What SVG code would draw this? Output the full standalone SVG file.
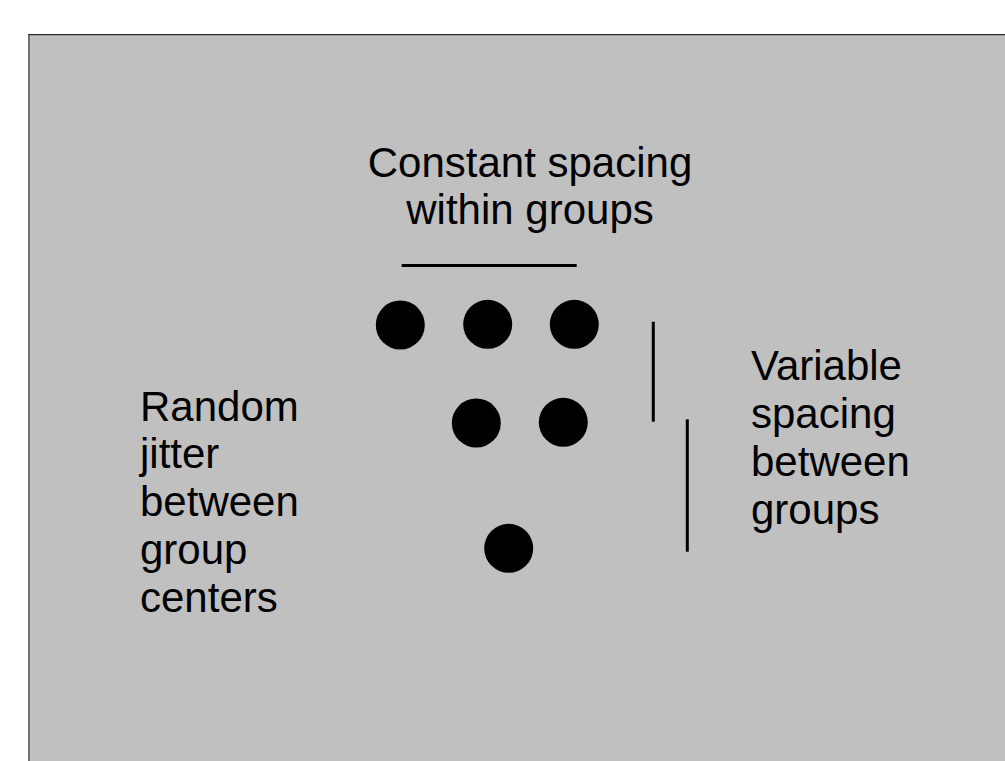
<svg xmlns="http://www.w3.org/2000/svg" width="1005" height="761" viewBox="0 0 1005 761">
  <style>
    .label { font-family: "Liberation Sans", Arial, sans-serif; font-size: 42px; fill: #000000; }
    .dot { fill: #000000; }
    .bar { stroke: #000000; stroke-width: 3; fill: none; }
  </style>
  <rect x="0" y="0" width="1005" height="761" fill="#ffffff"/>
  <!-- slide panel -->
  <rect x="29" y="35" width="976" height="726" fill="#c0c0c0"/>
  <line x1="28" y1="34.6" x2="1005" y2="34.6" stroke="#2a2a2a" stroke-width="1.3"/>
  <line x1="29" y1="35" x2="29" y2="761" stroke="#707070" stroke-width="2"/>

  <g id="title-constant">
    <text class="label" text-anchor="middle" x="530" y="176.5">Constant spacing</text>
    <text class="label" text-anchor="middle" x="530" y="223.5">within groups</text>
  </g>
  <g id="label-random">
    <text class="label" x="140" y="420.5">Random</text>
    <text class="label" x="140" y="468.3">jitter</text>
    <text class="label" x="140" y="516.4">between</text>
    <text class="label" x="140" y="564.3">group</text>
    <text class="label" x="140" y="611.8">centers</text>
  </g>
  <g id="label-variable">
    <text class="label" x="751" y="380">Variable</text>
    <text class="label" x="751" y="428">spacing</text>
    <text class="label" x="751" y="476.3">between</text>
    <text class="label" x="751" y="524.3">groups</text>
  </g>

  <g id="group-row1">
    <circle class="dot" cx="400.3" cy="325" r="24.5"/>
    <circle class="dot" cx="487.7" cy="324.3" r="24.5"/>
    <circle class="dot" cx="574.3" cy="324.3" r="24.5"/>
  </g>
  <g id="group-row2">
    <circle class="dot" cx="476.3" cy="423" r="24.5"/>
    <circle class="dot" cx="563.3" cy="422.3" r="24.5"/>
  </g>
  <g id="group-row3">
    <circle class="dot" cx="508.7" cy="548.3" r="24.5"/>
  </g>

  <g id="connectors">
    <line class="bar" x1="401.7" y1="265.5" x2="576.7" y2="265.5"/>
    <line class="bar" x1="653.3" y1="321.7" x2="653.3" y2="421.7"/>
    <line class="bar" x1="687.3" y1="419.3" x2="687.3" y2="551.7"/>
  </g>
</svg>
